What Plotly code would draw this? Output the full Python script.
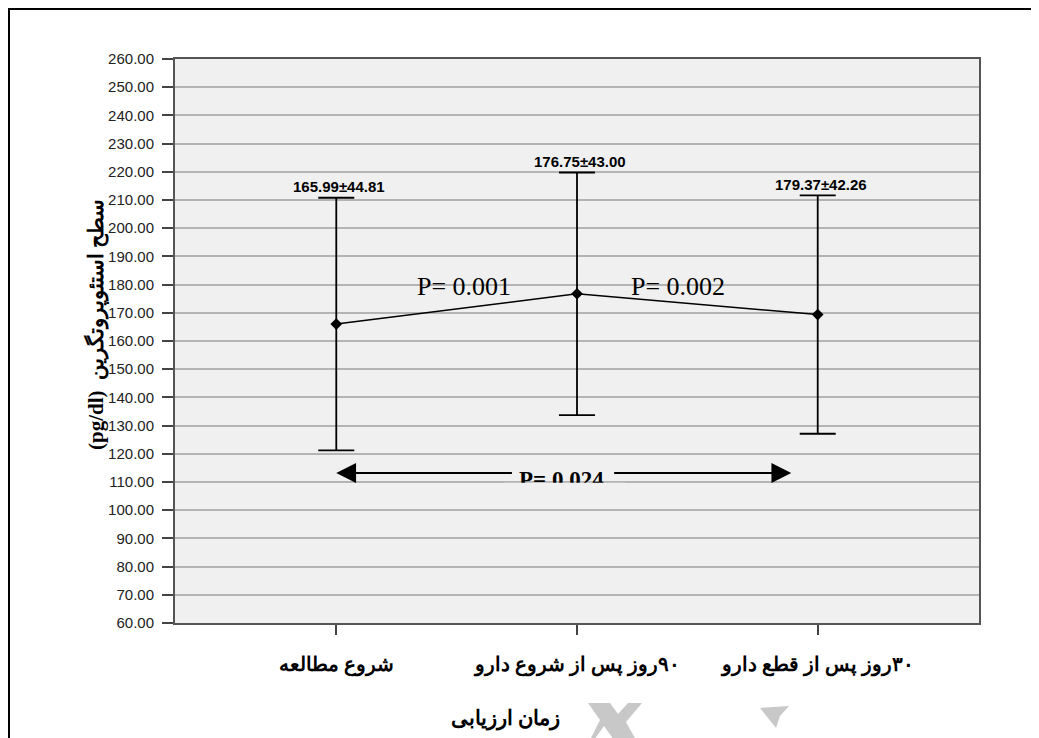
import plotly.graph_objects as go

# ---------------- data ----------------
categories = ["شروع مطالعه", "\u200f۹۰روز پس از شروع دارو", "\u200f۳۰روز پس از قطع دارو"]
means = [165.99, 176.75, 169.37]
sds = [44.81, 43.00, 42.26]
value_labels = ["165.99±44.81", "176.75±43.00", "179.37±42.26"]
y_ticks = list(range(60, 261, 10))
y_tick_text = [f"{v:.2f}" for v in y_ticks]
pair_p_labels = ["P= 0.001", "P= 0.002"]
pair_p_x = [0.53, 1.42]
pair_p_y = [179.5, 179.5]
overall_p_label = "P= 0.024"
overall_p_x = 0.935
overall_p_y = 110.1
arrow_y = 113.2
arrow_left = [0.0, 0.736]    # tip, tail
arrow_right = [1.89, 1.148]  # tip, tail
y_title = "(pg/dl)  سطح استئوپروتگرین"
x_title = "زمان ارزیابی"

# page has an 8px body margin; figure sized so the page layout matches
W, H = 1031, 730
ML, MR, MT, MB = 167, 60, 51, 115
PLOT_L, PLOT_R, PLOT_T, PLOT_B = 175, 979, 59, 623  # page pixels


def px(x):
    return (x - PLOT_L) / (PLOT_R - PLOT_L)


def py(y):
    return (PLOT_B - y) / (PLOT_B - PLOT_T)


xs = list(range(len(categories)))
SERIF = "Liberation Serif, Times New Roman, serif"
SANS = "Liberation Sans, Arial, sans-serif"

fig = go.Figure()
fig.add_trace(go.Scatter(
    x=xs, y=means, mode="lines+markers",
    line=dict(color="black", width=1.5),
    marker=dict(symbol="diamond", size=9, color="black"),
    error_y=dict(type="data", array=sds, symmetric=True, color="black",
                 thickness=1.8, width=18),
    showlegend=False, hoverinfo="skip",
))
# overall p label (as a trace so it can be partly covered)
fig.add_trace(go.Scatter(
    x=[overall_p_x], y=[overall_p_y], mode="text", text=[f"<b>{overall_p_label}</b>"],
    textfont=dict(family=SERIF, size=23, color="black"),
    textposition="middle center", showlegend=False, hoverinfo="skip",
))

annotations = []
for i, lab in enumerate(value_labels):
    annotations.append(dict(
        x=xs[i], y=means[i] + sds[i], xref="x", yref="y", text=f"<b>{lab}</b>",
        showarrow=False, yshift=11, xshift=3,
        font=dict(family=SANS, size=15, color="black"),
    ))
for lab, x, y in zip(pair_p_labels, pair_p_x, pair_p_y):
    annotations.append(dict(
        x=x, y=y, xref="x", yref="y", text=lab, showarrow=False,
        font=dict(family=SERIF, size=26, color="black"),
    ))
for tip, tail in (arrow_left, arrow_right):
    annotations.append(dict(
        x=tip, y=arrow_y, ax=tail, ay=arrow_y, xref="x", yref="y", axref="x", ayref="y",
        text="", showarrow=True, arrowhead=2, arrowsize=2.2, arrowwidth=1.8,
        arrowcolor="black", standoff=0,
    ))
annotations.append(dict(
    x=px(96), y=py(325), xref="paper", yref="paper", text=f"<b>{y_title}</b>",
    textangle=-90, showarrow=False, xanchor="center", yanchor="middle",
    font=dict(family=SERIF, size=21, color="black"),
))
annotations.append(dict(
    x=px(505), y=py(718), xref="paper", yref="paper", text=f"<b>{x_title}</b>",
    showarrow=False, xanchor="center", yanchor="middle",
    font=dict(family=SERIF, size=21, color="black"),
))

shapes = [
    # cover lower part of overall p label
    dict(type="rect", xref="x", yref="y", x0=0.7, x1=1.2, y0=104, y1=109.7,
         fillcolor="#f0f0f0", line=dict(width=0), layer="above"),
    # outer border
    dict(type="rect", xref="paper", yref="paper", x0=px(9), x1=px(1080), y0=py(780), y1=py(9),
         line=dict(color="black", width=2), fillcolor="rgba(0,0,0,0)", layer="below"),
    # watermark fragments
    dict(type="path", xref="paper", yref="paper",
         path=(f"M {px(588)},{py(703)} L {px(610)},{py(703)} L {px(618)},{py(714)} "
               f"L {px(628)},{py(703)} L {px(642)},{py(703)} L {px(626)},{py(722)} "
               f"L {px(636)},{py(740)} L {px(614)},{py(740)} L {px(604)},{py(726)} "
               f"L {px(594)},{py(740)} L {px(590)},{py(740)} L {px(600)},{py(720)} Z"),
         fillcolor="#c8c8c8", line=dict(width=0)),
    dict(type="path", xref="paper", yref="paper",
         path=(f"M {px(760)},{py(708)} L {px(789)},{py(706)} L {px(780)},{py(716)} "
               f"L {px(776)},{py(728)} Z"),
         fillcolor="#c8c8c8", line=dict(width=0)),
]

fig.update_layout(
    width=W, height=H,
    margin=dict(l=ML, r=MR, t=MT, b=MB),
    paper_bgcolor="white", plot_bgcolor="#f0f0f0",
    annotations=annotations, shapes=shapes,
    xaxis=dict(
        range=[-0.67, 2.67], tickmode="array", tickvals=xs,
        ticktext=[f"<b>{c}</b>" for c in categories],
        tickfont=dict(family=SERIF, size=20, color="black"),
        ticks="outside", ticklen=10, tickwidth=2, tickcolor="#444",
        showgrid=False, zeroline=False, showline=True, linecolor="#555", linewidth=2,
        mirror=True, ticklabelstandoff=12,
    ),
    yaxis=dict(
        range=[60, 260], tickmode="array", tickvals=y_ticks, ticktext=y_tick_text,
        tickfont=dict(family=SANS, size=15, color="#222"),
        ticks="outside", ticklen=11, tickwidth=2, tickcolor="#444",
        showgrid=True, gridcolor="#b4b4b4", gridwidth=1.5, zeroline=False,
        showline=True, linecolor="#555", linewidth=2, mirror=True,
        ticklabelstandoff=5,
    ),
)

fig.write_html("out.html")
